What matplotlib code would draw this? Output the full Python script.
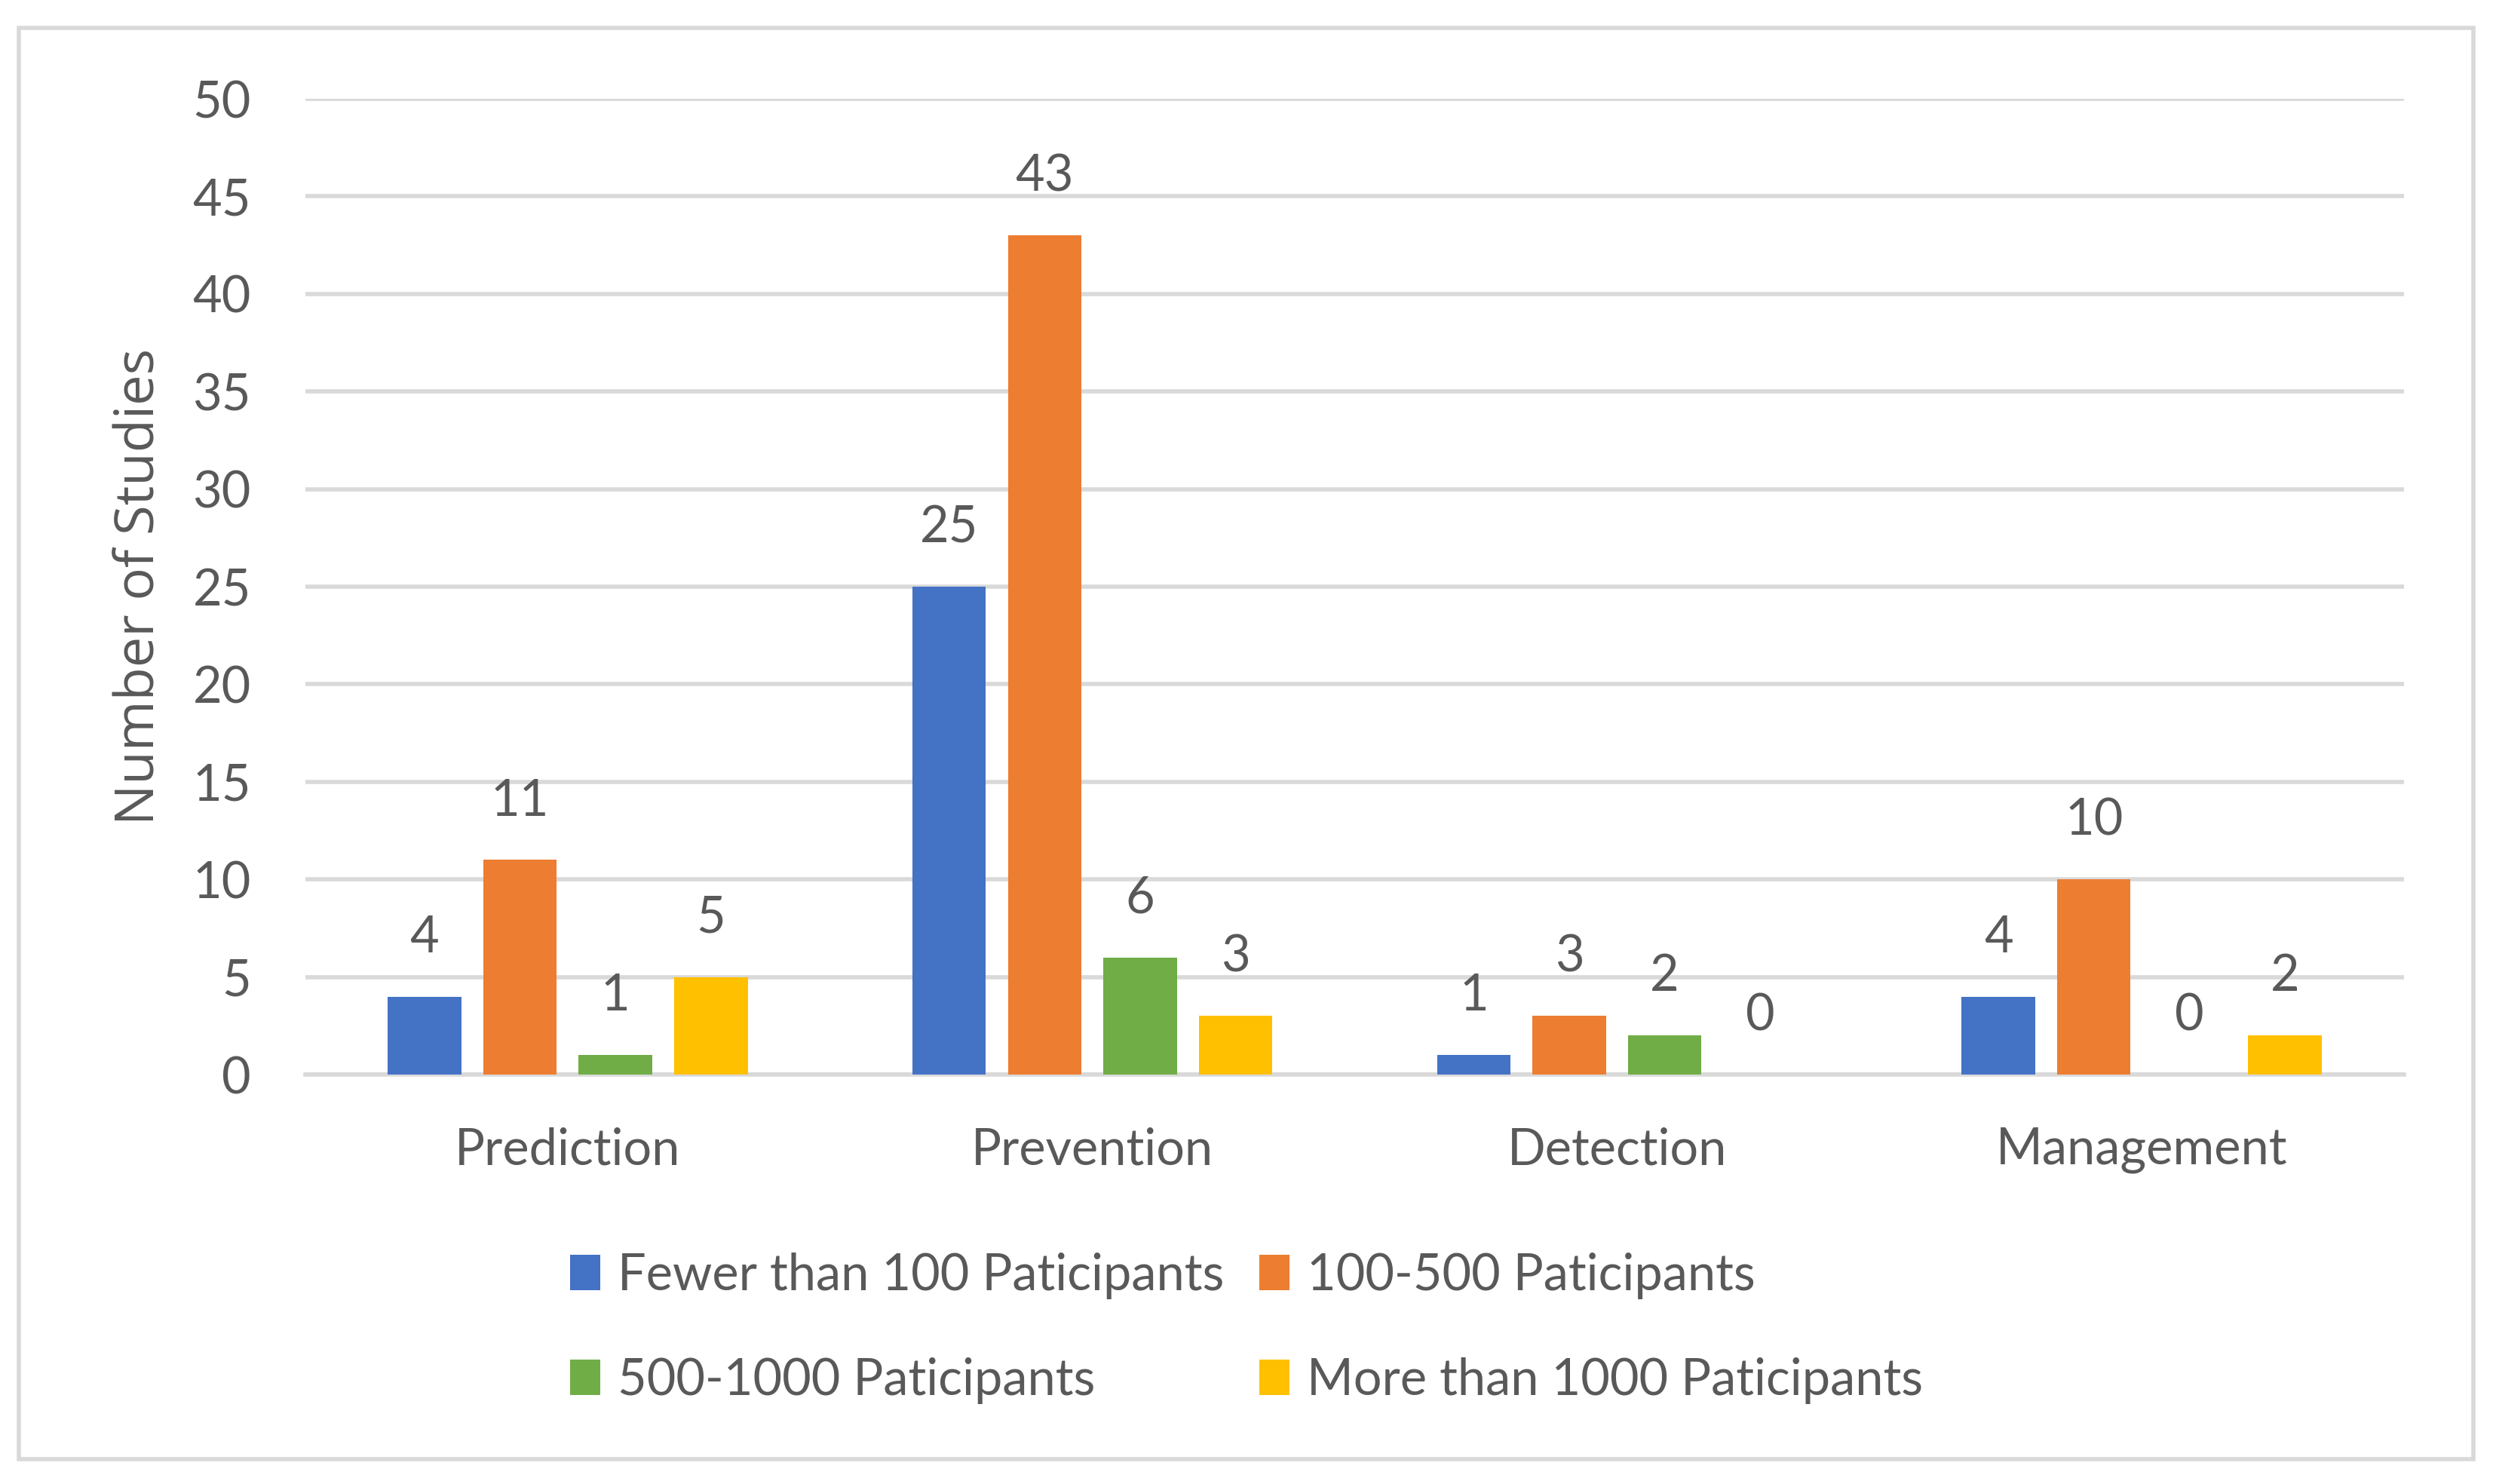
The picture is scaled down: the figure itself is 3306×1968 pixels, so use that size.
import numpy as np
import matplotlib
matplotlib.use("Agg")
import matplotlib.pyplot as plt
from matplotlib.patches import Rectangle

# Data
categories = ["Prediction", "Prevention", "Detection", "Management"]
series_names = ["Fewer than 100 Paticipants", "100-500 Paticipants",
                "500-1000 Paticipants", "More than 1000 Paticipants"]
fewer_100 = [4, 25, 1, 4]
p100_500 = [11, 43, 3, 10]
p500_1000 = [1, 6, 2, 0]
more_1000 = [5, 3, 0, 2]
y_ticks = [0, 5, 10, 15, 20, 25, 30, 35, 40, 45, 50]

colors = ["#4472C4", "#ED7D31", "#70AD47", "#FFC000"]
text_color = "#595959"
grid_color = "#D9D9D9"

plt.rcParams["font.family"] = ["Lato", "DejaVu Sans"]
fs = 24

fig = plt.figure(figsize=(16.53, 9.84), dpi=200)
ax = fig.add_axes([0.1225, 0.2759, 0.8418, 0.6575])

# outer chart border
fig.patches.append(Rectangle((0.0076, 0.0168), 0.9844, 0.9642,
                             transform=fig.transFigure, fill=False,
                             edgecolor=grid_color, linewidth=2.0))

x = np.arange(len(categories))
width = 0.14
step = 0.182
handles = []
for i, vals in enumerate([fewer_100, p100_500, p500_1000, more_1000]):
    offs = (i - 1.5) * step
    bars = ax.bar(x + offs, vals, width, color=colors[i], zorder=3,
                  label=series_names[i])
    handles.append(bars)
    for xi, v in zip(x + offs, vals):
        ax.annotate(str(v), (xi, v), xytext=(0, 28), textcoords="offset points",
                    ha="center", va="center", fontsize=fs, color=text_color)

ax.set_xlim(-0.5, len(categories) - 0.5)
ax.set_ylim(0, 50)
ax.set_yticks(y_ticks)
ax.set_xticks(x)
ax.set_xticklabels(categories)
ax.yaxis.grid(True, color=grid_color, linewidth=2.0, zorder=0)
ax.set_axisbelow(True)
for side in ["top", "right", "left"]:
    ax.spines[side].set_visible(False)
ax.spines["bottom"].set_color(grid_color)
ax.spines["bottom"].set_linewidth(2.0)
ax.tick_params(axis="both", length=0, labelsize=fs, labelcolor=text_color)
ax.tick_params(axis="y", pad=26)
ax.tick_params(axis="x", pad=25)

ax.set_ylabel("Number of Studies", fontsize=26, color=text_color,
              family=["Open Sans", "DejaVu Sans"])
ax.yaxis.set_label_coords(-0.066, 0.5)

order = [0, 2, 1, 3]
leg = fig.legend([handles[k] for k in order], [series_names[k] for k in order],
                 ncol=2, loc="center", bbox_to_anchor=(0.5, 0.105),
                 frameon=False, fontsize=fs, labelcolor=text_color,
                 handlelength=0.6, handleheight=0.7, handletextpad=0.35,
                 columnspacing=0.7, labelspacing=1.15)

fig.savefig("out.png", dpi=200)
